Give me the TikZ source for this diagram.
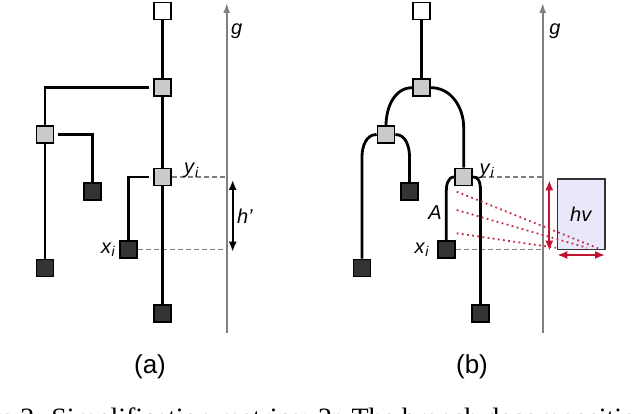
\documentclass[tikz,border=0pt]{standalone}
\usepackage{fontspec}
\setmainfont{Liberation Sans}
\newfontfamily\capfont{Liberation Serif}
\usepackage{tikz}
\usetikzlibrary{arrows.meta,calc}

\definecolor{leafgray}{HTML}{333333}
\definecolor{innergray}{HTML}{CACACA}
\definecolor{axisgray}{HTML}{808080}
\definecolor{metricred}{HTML}{C2132F}
\definecolor{hvfill}{HTML}{E8E8FA}

\newcommand{\idx}[2]{\textit{#1}\textsubscript{\textit{#2}}}

\begin{document}
\begin{tikzpicture}[x=1pt, y=1pt,
  box/.style={draw=black, line width=1.8pt, minimum size=17pt, inner sep=0pt},
  rootbox/.style={box, fill=white},
  innerbox/.style={box, fill=innergray},
  leafbox/.style={box, fill=leafgray},
  branch/.style={line width=2.8pt},
  gaxis/.style={axisgray, line width=1.7pt, -{Latex[length=10pt,width=7pt]}},
  guide/.style={axisgray, line width=1.3pt, dash pattern=on 5pt off 3pt},
  lab/.style={font=\fontsize{20}{23}\selectfont, inner sep=1pt},
  redarrow/.style={metricred, line width=1.7pt, {Latex[length=10pt,width=8pt]}-{Latex[length=10pt,width=8pt]}},
  reddot/.style={metricred!90, line width=1.8pt, dash pattern=on 1.8pt off 3.4pt}]
  \useasboundingbox (0,0) rectangle (640,413);

  % (a) 节点
  \node[rootbox]  (ra)  at (162.8,402)   {};
  \node[innerbox] (ia1) at (162.8,325.3) {};
  \node[innerbox] (ia2) at (45,278.5)    {};
  \node[innerbox] (ia3) at (162.8,236)   {};
  \node[leafbox]  (la1) at (92.2,221.5)  {};
  \node[leafbox]  (la2) at (45,145)      {};
  \node[leafbox]  (la3) at (128.7,163.2) {};
  \node[leafbox]  (la4) at (162.8,99.5)  {};

  % (a) 轴 g
  \coordinate (ga0) at (226.7,80);
  \coordinate (ga1) at (226.7,410);
  \draw[gaxis] (ga0) -- (ga1);
  \node[lab] (ga) at (236.7,382) {\textit{g}};

  % (a) 虚线与 h'
  \draw[guide] (ia3.east) -- (ia3.east -| ga0);
  \draw[guide] (la3.east) -- (la3.east -| ga0);
  \coordinate (hp1) at (232.7,233);
  \coordinate (hp2) at (232.7,161.3);
  \draw[line width=1.7pt, {Latex[length=10pt,width=8pt]}-{Latex[length=10pt,width=8pt]}] (hp1) -- (hp2);
  \node[lab] (hpa) at (245,196.3) {\textit{h'}};

  % (a) 树枝
  \draw[branch] (ra) -- (ia1);
  \draw[branch] (ia1) -- (ia3);
  \draw[branch] (ia3) -- (la4);
  \draw[branch, shorten <=4pt] (ia1.west) -| (ia2);
  \draw[branch, shorten <=4pt] (ia2.east) -| (la1);
  \draw[branch] (ia2) -- (la2);
  \draw[branch, shorten <=4pt] (ia3.west) -| (la3);
  \node[lab] (ya) at (191.7,242.3) {\idx{y}{i}};
  \node[lab] (xa) at (108.3,163.7) {\idx{x}{i}};

  % (b) 节点
  \node[rootbox]  (rb)  at (421.7,402)   {};
  \node[innerbox] (ib1) at (421.7,325.3) {};
  \node[innerbox] (ib2) at (386,278.5)   {};
  \node[innerbox] (ib3) at (463.7,236)   {};
  \node[leafbox]  (lb1) at (409.5,221.5) {};
  \node[leafbox]  (lb2) at (362,145)     {};
  \node[leafbox]  (lb3) at (446.2,163.2) {};
  \node[leafbox]  (lb4) at (480.5,99.5)  {};

  % (b) 轴 g
  \coordinate (gb0) at (542.7,80);
  \coordinate (gb1) at (542.7,410);
  \draw[gaxis] (gb0) -- (gb1);
  \node[lab] (gb) at (555,382) {\textit{g}};

  % (b) 虚线
  \draw[guide] (ib3.east) -- (ib3.east -| gb0);
  \draw[guide] (lb3.east) -- (lb3.east -| gb0);

  % (b) 曲线树枝
  \draw[branch] (rb) -- (ib1);
  \draw[branch] (ib1.west) to[out=180,in=90] ($(ib1.west -| ib2)+(0,-38)$) -- (ib2);
  \draw[branch] (ib1.east) to[out=0,in=90] ($(ib1.east -| ib3)+(0,-40)$) -- (ib3);
  \draw[branch] (ib2.west) to[out=180,in=90] ($(ib2.west -| lb2)+(0,-22)$) -- (lb2);
  \draw[branch] (ib2.east) to[out=0,in=90] ($(ib2.east -| lb1)+(0,-22)$) -- (lb1);
  \draw[branch] (ib3.west) to[out=180,in=90] ($(ib3.west -| lb3)+(0,-16)$) -- (lb3);
  \draw[branch] (ib3.east) to[out=0,in=90] ($(ib3.east -| lb4)+(0,-20)$) -- (lb4);
  \node[lab] (yb) at (487,241.5) {\idx{y}{i}};
  \node[lab] (xb) at (422,163.7) {\idx{x}{i}};
  \node[lab] (A) at (435,200) {\textit{A}};

  % 矩形 hv 与红色箭头
  \node[draw=leafgray, line width=1.5pt, fill=hvfill, minimum width=47.7pt, minimum height=70.3pt,
        inner sep=0pt, font=\fontsize{20}{23}\selectfont] (hv) at (581.2,198.9) {\textit{hv}};
  \coordinate (rv1) at (549.3,232.7);
  \coordinate (rv2) at (549.3,162.3);
  \coordinate (rh1) at (557.3,158);
  \coordinate (rh2) at (605,158);
  \draw[redarrow] (rv1) -- (rv2);
  \draw[redarrow] (rh1) -- (rh2);

  % 红色点线
  \coordinate (da1) at (456.7,221.3);
  \coordinate (da2) at (456.7,203);
  \coordinate (da3) at (456.7,179.7);
  \coordinate (db1) at (598,164.7);
  \coordinate (db2) at (587,165.2);
  \coordinate (db3) at (556,165.2);
  \draw[reddot] (da1) -- (db1);
  \draw[reddot] (da2) -- (db2);
  \draw[reddot] (da3) -- (db3);

  % 标签
  \node[font=\fontsize{26}{30}\selectfont] (sa) at (150,46) {(a)};
  \node[font=\fontsize{26}{30}\selectfont] (sb) at (472,46) {(b)};
  \node[anchor=base west, inner sep=0pt, font=\capfont\fontsize{28}{34}\selectfont] (cap) at (-60,-14)
    {Figure 2: Simplification metrics: 2a The branch decomposition};
\end{tikzpicture}
\end{document}
